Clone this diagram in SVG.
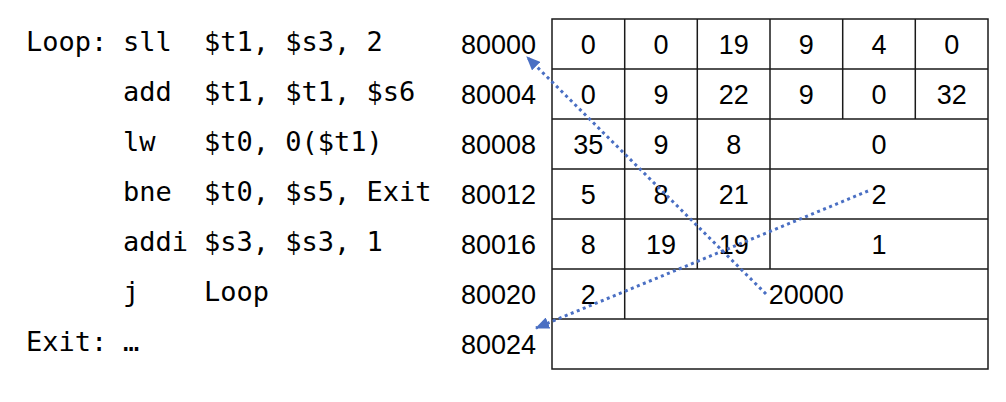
<svg xmlns="http://www.w3.org/2000/svg" width="1006" height="402" viewBox="0 0 1006 402">
<style>
  .code { font-family: "DejaVu Sans Mono", "Liberation Mono", monospace; font-size: 27px; fill: #000; }
  .addr { font-family: "Liberation Sans", Arial, sans-serif; font-size: 27px; fill: #000; text-anchor: end; }
  .cell { font-family: "Liberation Sans", Arial, sans-serif; font-size: 27px; fill: #000; text-anchor: middle; }
  .grid { stroke: #1a1a1a; stroke-width: 1.5; fill: none; }
  .conn { stroke: #4a6fc3; stroke-width: 3; stroke-dasharray: 3 3.5; fill: none; }
</style>
<defs>
  <marker id="arrow" markerUnits="userSpaceOnUse" markerWidth="14" markerHeight="12" refX="13" refY="6" orient="auto">
    <path d="M0,0 L14,6 L0,12 z" fill="#4a6fc3"/>
  </marker>
</defs>
<rect width="1006" height="402" fill="#fff"/>

<g id="code">
  <text class="code" x="26" y="51">Loop:</text><text class="code" x="123" y="51">sll</text><text class="code" x="204" y="51">$t1, $s3, 2</text>
  <text class="code" x="123" y="101">add</text><text class="code" x="204" y="101">$t1, $t1, $s6</text>
  <text class="code" x="123" y="151">lw</text><text class="code" x="204" y="151">$t0, 0($t1)</text>
  <text class="code" x="123" y="201">bne</text><text class="code" x="204" y="201">$t0, $s5, Exit</text>
  <text class="code" x="123" y="251">addi</text><text class="code" x="204" y="251">$s3, $s3, 1</text>
  <text class="code" x="123" y="301">j</text><text class="code" x="204" y="301">Loop</text>
  <text class="code" x="26" y="351">Exit:</text><text class="code" x="123" y="351">…</text>
</g>

<g id="addresses">
  <text class="addr" x="536" y="54">80000</text>
  <text class="addr" x="536" y="104">80004</text>
  <text class="addr" x="536" y="154">80008</text>
  <text class="addr" x="536" y="204">80012</text>
  <text class="addr" x="536" y="254">80016</text>
  <text class="addr" x="536" y="304">80020</text>
  <text class="addr" x="536" y="354">80024</text>
</g>

<g id="memory-table">
  <rect class="grid" x="552" y="19" width="436" height="350"/>
  <path class="grid" d="M552,69 H988 M552,119 H988 M552,169 H988 M552,219 H988 M552,269 H988 M552,319 H988"/>
  <path class="grid" d="M624.7,19 V319 M697.3,19 V269 M770,19 V269 M842.7,19 V119 M915.3,19 V119"/>
  <g id="row-80000">
    <text class="cell" x="588.3" y="54">0</text><text class="cell" x="661" y="54">0</text><text class="cell" x="733.7" y="54">19</text>
    <text class="cell" x="806.3" y="54">9</text><text class="cell" x="879" y="54">4</text><text class="cell" x="951.7" y="54">0</text>
  </g>
  <g id="row-80004">
    <text class="cell" x="588.3" y="104">0</text><text class="cell" x="661" y="104">9</text><text class="cell" x="733.7" y="104">22</text>
    <text class="cell" x="806.3" y="104">9</text><text class="cell" x="879" y="104">0</text><text class="cell" x="951.7" y="104">32</text>
  </g>
  <g id="row-80008">
    <text class="cell" x="588.3" y="154">35</text><text class="cell" x="661" y="154">9</text><text class="cell" x="733.7" y="154">8</text>
    <text class="cell" x="879" y="154">0</text>
  </g>
  <g id="row-80012">
    <text class="cell" x="588.3" y="204">5</text><text class="cell" x="661" y="204">8</text><text class="cell" x="733.7" y="204">21</text>
    <text class="cell" x="879" y="204">2</text>
  </g>
  <g id="row-80016">
    <text class="cell" x="588.3" y="254">8</text><text class="cell" x="661" y="254">19</text><text class="cell" x="733.7" y="254">19</text>
    <text class="cell" x="879" y="254">1</text>
  </g>
  <g id="row-80020">
    <text class="cell" x="588.3" y="304">2</text>
    <text class="cell" x="806.3" y="304">20000</text>
  </g>
  <g id="row-80024"></g>
</g>

<g id="connectors">
  <line class="conn" x1="766" y1="294" x2="527" y2="57" marker-end="url(#arrow)"/>
  <line class="conn" x1="868" y1="191" x2="536" y2="328" marker-end="url(#arrow)"/>
</g>
</svg>
